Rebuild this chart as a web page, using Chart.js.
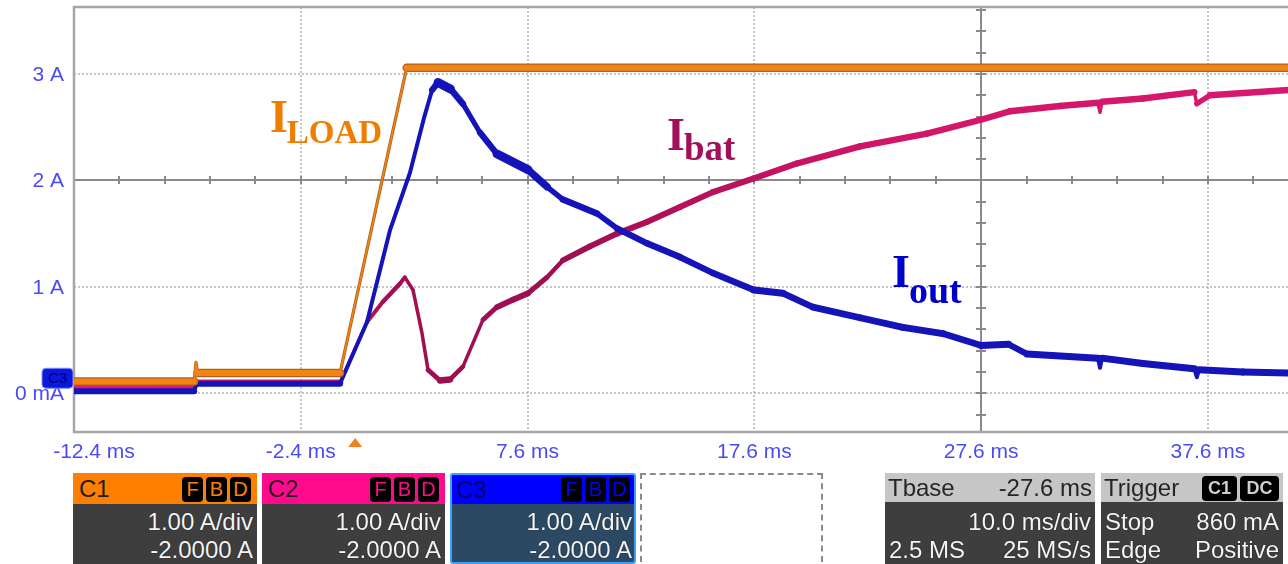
<!DOCTYPE html>
<html>
<head>
<meta charset="utf-8">
<script src="https://cdn.jsdelivr.net/npm/chart.js@4.4.1/dist/chart.umd.min.js"></script>
<style>
  body { margin: 0; background: #fff; width: 1288px; height: 564px; overflow: hidden; position: relative; }
  #scope { position: absolute; left: 0; top: 0; }
  .box { position: absolute; top: 473px; height: 91px; overflow: hidden; font: 24px "Liberation Sans", Arial, sans-serif; box-sizing: border-box; }
  .hd { position: absolute; left: 0; right: 0; top: 0; height: 31px; line-height: 31px; }
  .nm { position: absolute; left: 6px; top: 0; color: #1e1e1e; }
  .tags { position: absolute; right: 6px; top: 4px; display: flex; gap: 3px; }
  .tags i { font-style: normal; display: block; width: 21px; height: 25px; line-height: 25px; background: #000; border-radius: 4px; text-align: center; font-size: 20px; }
  .bo { position: absolute; left: 0; right: 0; top: 31px; bottom: 0; background: #3e3e3e; }
  .row { position: absolute; left: 4px; right: 4px; height: 28px; line-height: 28px; display: flex; justify-content: space-between; color: #f4f4f4; text-shadow: 0 0 1px #000; white-space: nowrap; }
  .r1 { top: 35px; } .r2 { top: 63px; }
  .grey .hd { height: 29px; line-height: 29px; background: #c6c6c6; }
  .grey .hd .nm { left: 3px; color: #262626; }
  .grey .bo { top: 29px; }
  .dash { position: absolute; top: 473px; left: 640px; width: 183px; height: 120px; border: 2px dashed #8a8a8a; box-sizing: border-box; }
</style>
</head>
<body>
<canvas id="scope" width="1288" height="474"></canvas>

<div class="box" style="left:73px;width:184px">
  <div class="hd" style="background:#ff8000"><span class="nm">C1</span><span class="tags" style="color:#ff8000"><i>F</i><i>B</i><i>D</i></span></div>
  <div class="bo"></div>
  <div class="row r1"><span></span><span>1.00 A/div</span></div>
  <div class="row r2"><span></span><span>-2.0000 A</span></div>
</div>
<div class="box" style="left:262px;width:183px">
  <div class="hd" style="background:#ff0a8a"><span class="nm">C2</span><span class="tags" style="color:#ff0a8a"><i>F</i><i>B</i><i>D</i></span></div>
  <div class="bo"></div>
  <div class="row r1"><span></span><span>1.00 A/div</span></div>
  <div class="row r2"><span></span><span>-2.0000 A</span></div>
</div>
<div class="box" style="left:450px;width:186px;border:2px solid #3da0ff;border-radius:3px">
  <div class="hd" style="background:#0000ff;height:29px;line-height:29px"><span class="nm" style="left:4px;color:#000060">C3</span><span class="tags" style="color:#0000ff;right:4px;top:2px"><i>F</i><i>B</i><i>D</i></span></div>
  <div class="bo" style="top:29px;background:#2b4963"></div>
  <div class="row r1" style="top:33px;right:2px"><span></span><span>1.00 A/div</span></div>
  <div class="row r2" style="top:61px;right:2px"><span></span><span>-2.0000 A</span></div>
</div>
<div class="dash"></div>
<div class="box grey" style="left:885px;width:210px">
  <div class="hd"><span class="nm">Tbase</span><span style="position:absolute;right:3px;color:#262626">-27.6 ms</span></div>
  <div class="bo"></div>
  <div class="row r1"><span></span><span>10.0 ms/div</span></div>
  <div class="row r2"><span>2.5 MS</span><span>25 MS/s</span></div>
</div>
<div class="box grey" style="left:1101px;width:182px">
  <div class="hd"><span class="nm">Trigger</span><span class="tags" style="color:#cfcfcf;right:4px;top:3px"><i style="width:35px;font-weight:bold;font-size:18px">C1</i><i style="width:39px;font-weight:bold;font-size:18px">DC</i></span></div>
  <div class="bo"></div>
  <div class="row r1"><span>Stop</span><span>860 mA</span></div>
  <div class="row r2"><span>Edge</span><span>Positive</span></div>
</div>

<script>
const tLoad = [-12.4, -7.1, -7.02, -6.95, -0.67, 2.27, 41.2];
const iLoad = [0.11, 0.11, 0.29, 0.19, 0.19, 3.06, 3.06];

const tOut = [-12.4, -7.1, -7.0, -0.67, 0.52, 1.53, 2.41, 3.05, 3.39, 3.65, 4.2, 4.75, 5.5, 6.25, 7.62, 8.46,
  9.16, 10.66, 11.54, 12.86, 14.32, 15.77, 17.58, 18.86, 20.18, 22.26, 24.15, 25.92, 27.59, 28.8, 29.62,
  32.75, 32.84, 32.93, 34.73, 37.0, 37.11, 37.2, 39.14, 41.2];
const iOut = [0.02, 0.02, 0.09, 0.09, 0.67, 1.53, 2.07, 2.6, 2.85, 2.92, 2.86, 2.72, 2.45, 2.25, 2.1, 1.94,
  1.82, 1.69, 1.55, 1.41, 1.28, 1.13, 0.97, 0.94, 0.81, 0.71, 0.62, 0.56, 0.45, 0.46, 0.37,
  0.33, 0.24, 0.33, 0.28, 0.23, 0.15, 0.22, 0.2, 0.19];

const tBat = [-12.4, -7.1, -7.0, -0.67, 0.52, 1.22, 1.97, 2.19, 2.55, 2.94, 3.21, 3.74, 4.18, 4.75, 5.19, 5.63,
  6.25, 6.96, 7.62, 8.46, 9.16, 10.35, 11.54, 12.86, 14.32, 15.77, 17.58, 19.48, 22.26, 25.21, 27.59,
  28.87, 31.07, 32.75, 32.84, 32.93, 34.73, 37.0, 37.11, 37.69, 41.2];
const iBat = [0.065, 0.065, 0.1, 0.1, 0.67, 0.86, 1.03, 1.09, 0.97, 0.57, 0.22, 0.12, 0.13, 0.25, 0.47, 0.69,
  0.81, 0.88, 0.94, 1.09, 1.25, 1.38, 1.5, 1.61, 1.75, 1.89, 2.02, 2.16, 2.32, 2.44, 2.57,
  2.65, 2.70, 2.73, 2.64, 2.74, 2.77, 2.83, 2.72, 2.80, 2.85];

const xTicks = [-12.4, -2.4, 7.6, 17.6, 27.6, 37.6];
const xTickLabels = ['-12.4 ms', '-2.4 ms', '7.6 ms', '17.6 ms', '27.6 ms', '37.6 ms'];
const yTicks = [0, 1, 2, 3];
const yTickLabels = ['0 mA', '1 A', '2 A', '3 A'];

const centreT = 27.6, centreI = 2; // scope centre lines
const pts = (ts, vs) => ts.map((t, i) => ({ x: t, y: vs[i] }));

// noisy traces look like a band of constant vertical height
const band = (h, min) => c => {
  const dx = c.p1.x - c.p0.x, dy = c.p1.y - c.p0.y;
  const len = Math.hypot(dx, dy) || 1;
  const hh = typeof h === 'function' ? h(c) : h;
  return Math.max(min, hh * Math.abs(dx) / len);
};
const outBand = c => {
  const t = c.p0.parsed.x;
  if (t < -1) return 6;
  return t < 8 ? 10 : 7;
};

let batGrad = null;
function batColor(c) {
  const chart = c.chart, area = chart.chartArea, xs = chart.scales.x;
  if (!area || !xs) return '#c0125e';
  if (batGrad) return batGrad;
  const g = chart.ctx.createLinearGradient(area.left, 0, area.right, 0);
  [[-12.4, '#e21a6c'], [-1, '#d8186a'], [1.5, '#a01052'], [9, '#9c0f50'], [16, '#bb115c'], [24, '#d2166a'], [41.2, '#d8186e']]
    .forEach(([t, col]) => {
      const f = (xs.getPixelForValue(t) - area.left) / (area.right - area.left);
      g.addColorStop(Math.min(1, Math.max(0, f)), col);
    });
  batGrad = g;
  return g;
}

const scopeDeco = {
  id: 'scopeDeco',
  beforeDatasetsDraw(chart) {
    const { ctx, chartArea: a, scales: { x, y } } = chart;
    ctx.save();
    // dotted graticule
    ctx.strokeStyle = '#b2b2b2'; ctx.lineWidth = 1.5; ctx.setLineDash([2, 2]);
    xTicks.forEach(v => {
      if (v === centreT || v === xTicks[0]) return;
      const px = Math.round(x.getPixelForValue(v));
      ctx.beginPath(); ctx.moveTo(px, a.top); ctx.lineTo(px, a.bottom); ctx.stroke();
    });
    yTicks.forEach(v => {
      if (v === centreI) return;
      const py = Math.round(y.getPixelForValue(v));
      ctx.beginPath(); ctx.moveTo(a.left, py); ctx.lineTo(a.right, py); ctx.stroke();
    });
    // solid centre lines with minor ticks
    ctx.setLineDash([]); ctx.strokeStyle = '#8a8a8a'; ctx.lineWidth = 2;
    const cx = Math.round(x.getPixelForValue(centreT)), cy = Math.round(y.getPixelForValue(centreI));
    ctx.beginPath(); ctx.moveTo(cx, a.top); ctx.lineTo(cx, a.bottom); ctx.moveTo(a.left, cy); ctx.lineTo(a.right, cy); ctx.stroke();
    ctx.beginPath();
    for (let t = xTicks[0]; t <= 41.2; t += 2) {
      const px = Math.round(x.getPixelForValue(t));
      ctx.moveTo(px, cy - 4); ctx.lineTo(px, cy + 4);
    }
    for (let v = -0.4; v <= 3.7; v += 0.2) {
      const py = Math.round(y.getPixelForValue(v));
      if (py < a.top + 3 || py > a.bottom - 3) continue;
      ctx.moveTo(cx - 5, py); ctx.lineTo(cx + 5, py);
    }
    ctx.stroke();
    // frame
    ctx.strokeStyle = '#a6a6a6'; ctx.lineWidth = 2.5;
    ctx.beginPath();
    ctx.moveTo(a.right + 2, a.top); ctx.lineTo(a.left, a.top); ctx.lineTo(a.left, a.bottom); ctx.lineTo(a.right + 2, a.bottom);
    ctx.stroke();
    ctx.restore();
  },
  afterDraw(chart) {
    const { ctx, chartArea: a, scales: { x, y } } = chart;
    ctx.save();
    // axis labels
    ctx.fillStyle = '#4b4bf5'; ctx.font = '21px "Liberation Sans", Arial, sans-serif';
    ctx.textAlign = 'center'; ctx.textBaseline = 'middle';
    xTicks.forEach((v, i) => {
      const px = x.getPixelForValue(v) + (i === 0 ? 20 : 0);
      ctx.fillText(xTickLabels[i], px, 452);
    });
    ctx.textAlign = 'right';
    yTicks.forEach((v, i) => ctx.fillText(yTickLabels[i], a.left - 10, y.getPixelForValue(v) + 1));
    ctx.textAlign = 'center';
    // trigger marker
    const tx = x.getPixelForValue(0);
    ctx.fillStyle = '#f08020';
    ctx.beginPath(); ctx.moveTo(tx - 7, a.bottom + 15); ctx.lineTo(tx + 7, a.bottom + 15); ctx.lineTo(tx, a.bottom + 6); ctx.closePath(); ctx.fill();
    // C3 ground marker
    const gy = y.getPixelForValue(0);
    ctx.fillStyle = '#0a18dc'; ctx.strokeStyle = '#8090ff'; ctx.lineWidth = 1;
    ctx.beginPath(); ctx.roundRect(42, gy - 25, 31, 20, 4); ctx.fill(); ctx.stroke();
    ctx.fillStyle = '#000070'; ctx.font = '15px "Liberation Sans", Arial, sans-serif';
    ctx.fillText('C3', 57.5, gy - 14.5);
    // trace names
    const names = [
      { t: -3.76, v: 2.456, main: 'I', sub: 'LOAD', subSize: 33, drop: 11, col: '#f07d00' },
      { t: 13.75, v: 2.287, main: 'I', sub: 'bat', subSize: 37, drop: 10, col: '#a3105a' },
      { t: 23.67, v: 0.999, main: 'I', sub: 'out', subSize: 38, drop: 16, col: '#0000cc' }
    ];
    ctx.textAlign = 'left'; ctx.textBaseline = 'alphabetic';
    names.forEach(n => {
      const px = x.getPixelForValue(n.t), py = y.getPixelForValue(n.v);
      ctx.fillStyle = n.col;
      ctx.font = 'bold 46px "Liberation Serif", serif';
      ctx.fillText(n.main, px, py);
      const w = ctx.measureText(n.main).width;
      ctx.font = 'bold ' + n.subSize + 'px "Liberation Serif", serif';
      ctx.fillText(n.sub, px + w - 1, py + n.drop);
    });
    ctx.restore();
  }
};

new Chart(document.getElementById('scope'), {
  type: 'line',
  data: {
    datasets: [
      { label: 'ILOAD', data: pts(tLoad, iLoad), borderColor: '#f28414', order: 0,
        segment: { borderWidth: band(6, 1.6) } },
      { label: 'ILOAD edge', data: pts(tLoad, iLoad), borderColor: '#b0611c', order: 1,
        segment: { borderWidth: band(8.5, 3.2) } },
      { label: 'Iout', data: pts(tOut, iOut), borderColor: '#1414b8', order: 2,
        segment: { borderWidth: band(outBand, 4) } },
      { label: 'Ibat', data: pts(tBat, iBat), borderColor: batColor, order: 3,
        segment: { borderWidth: band(6.5, 3.5) } }
    ]
  },
  options: {
    responsive: false,
    animation: false,
    events: [],
    layout: { padding: { top: 7, left: 0, right: 0, bottom: 0 } },
    elements: {
      point: { radius: 0 },
      line: { tension: 0, borderCapStyle: 'round', borderJoinStyle: 'round', borderWidth: 5 }
    },
    plugins: { legend: { display: false }, tooltip: { enabled: false } },
    scales: {
      x: {
        type: 'linear', min: -12.4, max: 41.13,
        grid: { display: false, drawTicks: false }, border: { display: false },
        ticks: { display: false },
        afterFit: s => { s.height = 42; }
      },
      y: {
        type: 'linear', min: -0.364, max: 3.63,
        grid: { display: false, drawTicks: false }, border: { display: false },
        ticks: { display: false },
        afterFit: s => { s.width = 74; }
      }
    }
  },
  plugins: [scopeDeco]
});
</script>
</body>
</html>
